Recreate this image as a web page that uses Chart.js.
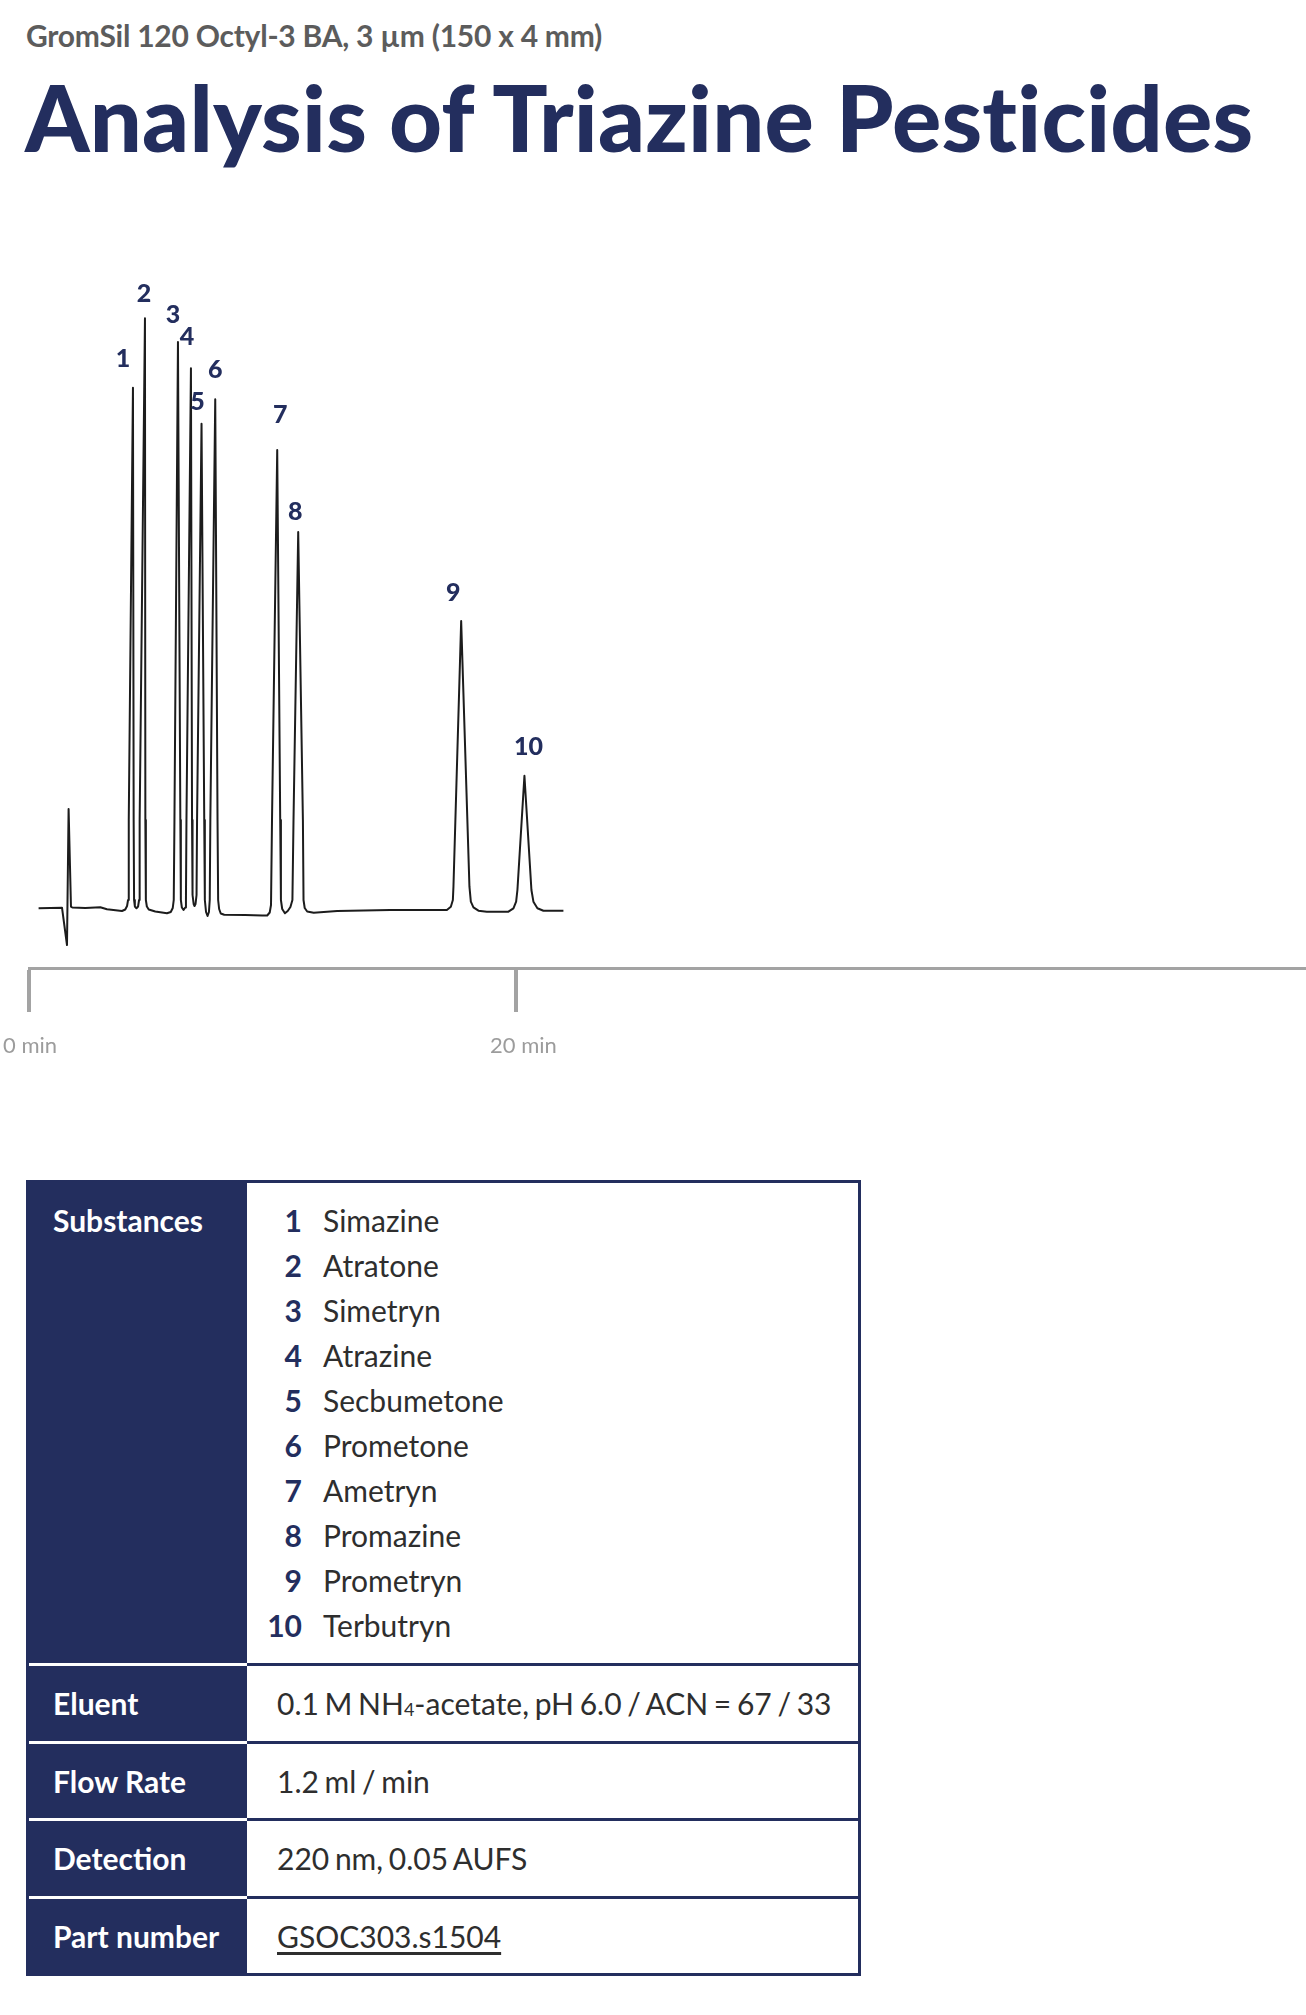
<!DOCTYPE html>
<html>
<head>
<meta charset="utf-8">
<title>Analysis of Triazine Pesticides</title>
<script src="https://cdn.jsdelivr.net/npm/chart.js@4.4.1/dist/chart.umd.min.js"></script>
<style>
  html, body { margin: 0; padding: 0; background: #fff; }
  body { width: 1306px; height: 2015px; position: relative; overflow: hidden; font-family: Lato, "Noto Sans", sans-serif; }
  .subtitle { position: absolute; left: 26px; top: 20px; font-size: 30px; line-height: 1; font-weight: 700; color: #5c5c5c; white-space: nowrap; letter-spacing: -0.25px; }
  .title { position: absolute; left: 25px; top: 71px; font-size: 92px; line-height: 1; font-weight: 900; color: #232e5e; white-space: nowrap; letter-spacing: 0.2px; }
  #chart-wrap { position: absolute; left: 0; top: 260px; width: 1306px; height: 818px; }
  .specs { position: absolute; left: 26px; top: 1180px; width: 835px; border: 3px solid #232e5e; box-sizing: border-box; }
  .row { display: flex; }
  .key { width: 194px; flex: none; background: #232e5e; color: #fff; font-weight: 700; font-size: 30px; padding-left: 24px; height: 74.5px; line-height: 74.5px; white-space: nowrap; }
  .val { flex: 1; color: #2e2e2e; font-size: 30px; word-spacing: -2px; padding-left: 30px; height: 74.5px; line-height: 74.5px; white-space: nowrap; }
  .row + .row .key { border-top: 3px solid #fff; }
  .row + .row .val { border-top: 3px solid #232e5e; }
  .row.first .key, .row.first .val { height: 450px; line-height: 45px; padding-top: 15px; padding-bottom: 15px; }
  .row.first .val { padding-left: 0; }
  .num { display: inline-block; width: 55px; text-align: right; font-weight: 700; color: #232e5e; margin-right: 21px; }
  .sub4 { font-size: 18px; vertical-align: -1px; }
  .part { text-decoration: underline; text-decoration-thickness: 3px; text-underline-offset: 4px; }
</style>
</head>
<body>
<div class="subtitle">GromSil 120 Octyl-3 BA, 3 µm (150 x 4 mm)</div>
<div class="title">Analysis of Triazine Pesticides</div>

<div id="chart-wrap"><canvas id="chromatogram" width="1306" height="818"></canvas></div>

<div class="specs">
  <div class="row first">
    <div class="key">Substances</div>
    <div class="val" id="substance-list"></div>
  </div>
  <div class="row"><div class="key">Eluent</div><div class="val">0.1 M NH<span class="sub4">4</span>-acetate, pH 6.0 / ACN = 67 / 33</div></div>
  <div class="row"><div class="key">Flow Rate</div><div class="val">1.2 ml / min</div></div>
  <div class="row"><div class="key">Detection</div><div class="val">220 nm, 0.05 AUFS</div></div>
  <div class="row"><div class="key">Part number</div><div class="val"><span class="part">GSOC303.s1504</span></div></div>
</div>

<script>
// detector trace (time in min, signal in arbitrary units)
const traceTime = [
  0.394, 1.355, 1.560, 1.626, 1.724, 1.778, 2.311, 2.927, 3.202, 3.818, 3.953, 4.027, 4.068,
  4.097, 4.269, 4.298, 4.315, 4.347, 4.413,
  4.479, 4.520, 4.544, 4.762, 4.778, 4.799, 4.840, 4.918, 5.185, 5.665, 5.821, 5.903, 5.944,
  5.973, 6.117, 6.215, 6.236, 6.277, 6.346, 6.416, 6.445,
  6.466, 6.650, 6.695, 6.716, 6.761, 6.798, 6.839, 6.880,
  6.901, 7.085, 7.196, 7.221, 7.270, 7.332, 7.389, 7.422,
  7.447, 7.648, 7.742, 7.767, 7.808, 7.874, 8.017, 8.879, 9.577, 9.782, 9.885, 9.938,
  9.979, 10.193, 10.316, 10.345, 10.398, 10.509, 10.624, 10.735, 10.817,
  10.862, 11.055, 11.248, 11.273, 11.322, 11.424, 11.691, 12.656, 14.832, 16.720,
  17.159, 17.323, 17.406, 17.430, 17.747, 18.087, 18.144, 18.251, 18.456, 18.801, 19.688,
  19.893, 20.004, 20.057, 20.345, 20.632, 20.714, 20.878, 21.124, 21.946
];
const traceSignal = [
  1.7, 2.3, -35, 101, 3.3, 2.5, 2, 2.7, 0.7, -1, 0.5, 4, 10,
  90, 522.3, 90, 10, 3.5, 1.7,
  3.5, 10, 90, 591.7, 90, 10, 3.5, 0.5, -1.5, -3.3, -2, 2, 10,
  90, 568, 90, 10, 2.5, 0, 2.5, 10,
  90, 541.7, 90, 15, 6, 4, 6, 15,
  90, 486.3, 90, 10, -2, -6, -2, 10,
  90, 510.7, 90, 10, 1, -3.5, -4.8, -5, -5.5, -5.5, -2.5, 5,
  90, 460, 90, 10, 1, -3.3, -1, 3, 10,
  90, 378, 90, 10, 2, -1.5, -2.7, -1, 0, 0,
  0, 3.3, 10, 23.3, 289, 23.3, 8.3, 2.7, -0.7, -1.7, -1.7,
  1.7, 8.3, 20, 134.3, 20, 8.3, 1.7, -0.7, -0.7
];

const peakIds = ['1', '2', '3', '4', '5', '6', '7', '8', '9', '10'];
const peakTimes = [4.269, 4.762, 6.117, 6.650, 7.085, 7.648, 10.193, 11.055, 17.747, 20.345];
const peakSignals = [522.3, 591.7, 568, 541.7, 486.3, 510.7, 460, 378, 289, 134.3];
const substances = ['Simazine', 'Atratone', 'Simetryn', 'Atrazine', 'Secbumetone',
  'Prometone', 'Ametryn', 'Promazine', 'Prometryn', 'Terbutryn'];

const tickMinutes = [0, 20];
const tickLabels = ['0 min', '20 min'];

const NAVY = '#232e5e';

// label placement relative to each apex (px)
const labelNudge = [[-10, -29], [-1, -24], [-5, -27], [-4, -31], [-4, -22],
  [0, -29], [3, -35], [-3, -20], [-8, -28], [4, -29]];

document.getElementById('substance-list').innerHTML = substances
  .map((name, i) => `<div><span class="num">${peakIds[i]}</span>${name}</div>`)
  .join('');

const peakLabels = {
  id: 'peakLabels',
  afterDatasetsDraw(chart) {
    const { ctx, scales: { x, y } } = chart;
    ctx.save();
    ctx.font = '900 25px Lato';
    ctx.fillStyle = NAVY;
    ctx.textAlign = 'center';
    ctx.textBaseline = 'middle';
    peakIds.forEach((id, i) => {
      const [dx, dy] = labelNudge[i];
      ctx.fillText(id, x.getPixelForValue(peakTimes[i]) + dx, y.getPixelForValue(peakSignals[i]) + dy);
    });
    ctx.restore();
  }
};

new Chart(document.getElementById('chromatogram'), {
  type: 'line',
  data: {
    datasets: [{
      data: traceTime.map((t, i) => ({ x: t, y: traceSignal[i] })),
      borderColor: '#1c1c1c',
      borderWidth: 2,
      borderJoinStyle: 'round',
      pointRadius: 0,
      tension: 0,
      fill: false,
      clip: false
    }]
  },
  options: {
    responsive: false,
    animation: false,
    layout: { padding: { top: 20, left: 29, right: 0, bottom: 0 } },
    plugins: { legend: { display: false }, tooltip: { enabled: false } },
    scales: {
      x: {
        type: 'linear',
        min: 0,
        max: 52.44,
        afterBuildTicks: (scale) => { scale.ticks = tickMinutes.map(v => ({ value: v })); },
        afterFit: (scale) => {
          scale.height = 110;
          scale.paddingLeft = 0;
          scale.paddingRight = 0;
        },
        border: { display: true, color: '#a3a3a3', width: 3 },
        grid: { drawOnChartArea: false, drawTicks: true, tickLength: 44, color: '#a3a3a3', lineWidth: 4 },
        ticks: {
          autoSkip: false,
          maxRotation: 0,
          align: 'start',
          labelOffset: -26,
          padding: 21,
          color: '#9c9c9c',
          font: { family: 'Lato', size: 22 },
          callback: (v) => tickLabels[tickMinutes.indexOf(v)]
        }
      },
      y: { display: false, min: -58, max: 630 }
    }
  },
  plugins: [peakLabels]
});
</script>
</body>
</html>
